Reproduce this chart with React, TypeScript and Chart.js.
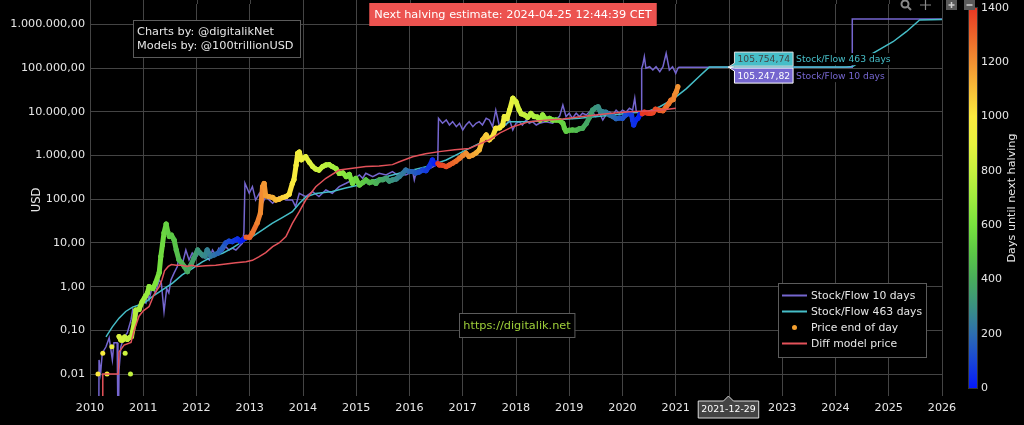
import React, { useEffect, useRef } from 'react';
import { Chart, registerables } from 'chart.js';

Chart.register(...registerables);

const FONT = '"DejaVu Sans", Verdana, sans-serif';
const TEXT = '#e6e6e6';
const GRID = '#444444';
const PURPLE = '#7566cf';
const CYAN = '#46bec8';
const RED = '#e4525a';
const ORANGE = '#f5a030';

// ---------- data ----------
const xTickYears = [2010, 2026];
const yTickValues = [0.01, 0.1, 1, 10, 100, 1000, 10000, 100000, 1000000];
const colorbarTicks = [0, 200, 400, 600, 800, 1000, 1200, 1400];
const halvingYears = [2012.907, 2016.519, 2020.358, 2024.314];
const legendLabels = ['Stock/Flow 10 days', 'Stock/Flow 463 days', 'Price end of day', 'Diff model price'];

const hoverYear = 2021.99;
const hoverDateLabel = '2021-12-29';
const hoverS2F463 = 105754.74;
const hoverS2F10 = 105247.82;

const priceDotYears = [2010.15, 2010.24, 2010.32, 2010.41, 2010.66, 2010.76];
const priceDotValues = [0.01, 0.03, 0.01, 0.042, 0.03, 0.01];

const priceYears = [
  2010.545, 2010.58, 2010.61, 2010.65, 2010.70, 2010.74, 2010.78, 2010.83, 2010.86, 2010.92, 2010.98,
  2011.04, 2011.08, 2011.11, 2011.18, 2011.23, 2011.30, 2011.33, 2011.36, 2011.39, 2011.43, 2011.46, 2011.49, 2011.53, 2011.58, 2011.62, 2011.67, 2011.72, 2011.77, 2011.83, 2011.86, 2011.90, 2011.95,
  2012.02, 2012.06, 2012.11, 2012.16, 2012.20, 2012.27, 2012.33, 2012.40, 2012.46, 2012.55, 2012.61, 2012.67, 2012.72, 2012.77, 2012.82, 2012.86, 2012.90,
  2012.93, 2013.00, 2013.05, 2013.14, 2013.20, 2013.24, 2013.27, 2013.30, 2013.36, 2013.43, 2013.49, 2013.55, 2013.62, 2013.68, 2013.74, 2013.80, 2013.83, 2013.87, 2013.90, 2013.93, 2013.97,
  2014.05, 2014.12, 2014.18, 2014.24, 2014.30, 2014.37, 2014.43, 2014.49, 2014.55, 2014.62, 2014.68, 2014.75, 2014.81, 2014.87, 2014.93, 2014.99,
  2015.06, 2015.12, 2015.18, 2015.25, 2015.31, 2015.37, 2015.43, 2015.50, 2015.56, 2015.62, 2015.68, 2015.75, 2015.81, 2015.87, 2015.93,
  2016.00, 2016.06, 2016.12, 2016.18, 2016.25, 2016.31, 2016.37, 2016.43, 2016.47, 2016.51,
  2016.53, 2016.56, 2016.62, 2016.69, 2016.75, 2016.81, 2016.87, 2016.94,
  2017.00, 2017.06, 2017.12, 2017.19, 2017.25, 2017.31, 2017.37, 2017.44, 2017.50, 2017.56, 2017.62, 2017.69, 2017.75, 2017.78, 2017.83, 2017.88, 2017.94,
  2018.00, 2018.06, 2018.10, 2018.16, 2018.22, 2018.28, 2018.34, 2018.40, 2018.45, 2018.50, 2018.56, 2018.63, 2018.69, 2018.75, 2018.82, 2018.88, 2018.91, 2018.94,
  2019.00, 2019.06, 2019.13, 2019.19, 2019.25, 2019.32, 2019.38, 2019.44, 2019.50, 2019.54, 2019.58, 2019.63, 2019.69, 2019.76, 2019.82, 2019.88, 2019.94,
  2020.00, 2020.06, 2020.13, 2020.17, 2020.19, 2020.21, 2020.25, 2020.29, 2020.33, 2020.355,
  2020.37, 2020.41, 2020.47, 2020.52, 2020.57, 2020.62, 2020.70, 2020.76, 2020.82, 2020.87, 2020.91, 2020.95, 2020.98, 2021.01, 2021.04,
];
const priceValues = [
  0.072, 0.06, 0.06, 0.07, 0.062, 0.068, 0.072, 0.148, 0.29, 0.3, 0.45,
  0.6, 0.72, 1.0, 0.9, 1.2, 2.1, 4.9, 9, 17, 27, 18, 14, 15, 11.7, 6.9, 4.1, 3.5, 2.9, 2.2, 2.7, 3.2, 4.5,
  6.9, 6.0, 5.3, 5.0, 6.9, 5.0, 5.3, 5.8, 6.9, 10, 11, 10.7, 11.5, 12.3, 11.0, 11.7, 12.5,
  13.5, 13.5, 17, 28.7, 48.5, 194, 230, 120, 115, 110, 96, 100, 110, 115, 130, 230, 280, 600, 1130, 1200, 800,
  940, 700, 560, 490, 465, 560, 610, 620, 560, 500, 390, 400, 330, 370, 232, 300,
  212, 240, 277, 240, 253, 230, 277, 280, 302, 260, 277, 290, 330, 390, 465,
  430, 430, 400, 420, 465, 450, 560, 790, 650, 670,
  660, 610, 600, 560, 610, 670, 740, 870,
  1000, 1130, 950, 1030, 1150, 1340, 2280, 2960, 2300, 2700, 4200, 4300, 5000, 7800, 7000, 11000, 20500,
  17100, 11000, 9000, 8500, 7500, 9200, 7800, 7600, 6500, 8500, 6800, 7100, 6500, 6500, 6300, 5500, 4200, 3600,
  3800, 3850, 3800, 4100, 4200, 5400, 7500, 11000, 12500, 13100, 10500, 10000, 9800, 8500, 7800, 7000, 7200,
  7100, 8500, 9200, 8500, 6500, 5000, 6500, 7100, 8800, 9000,
  9000, 9900, 9300, 9200, 9500, 11500, 10800, 10600, 13000, 15500, 18500, 19000, 24400, 29000, 37800,
];

const s2f10Years = [
  2010.165, 2010.17, 2010.20, 2010.23, 2010.30, 2010.36, 2010.42, 2010.45, 2010.51, 2010.525, 2010.535, 2010.545, 2010.58, 2010.64, 2010.70, 2010.77, 2010.80, 2010.86, 2010.92, 2010.98,
  2011.05, 2011.08, 2011.11, 2011.17, 2011.23, 2011.30, 2011.34, 2011.39, 2011.44, 2011.48, 2011.52, 2011.58, 2011.64, 2011.67, 2011.73, 2011.80, 2011.86, 2011.92, 2011.99,
  2012.05, 2012.11, 2012.17, 2012.24, 2012.30, 2012.36, 2012.42, 2012.49, 2012.55, 2012.61, 2012.67, 2012.74, 2012.80, 2012.86, 2012.89, 2012.91,
  2012.99, 2013.05, 2013.11, 2013.18, 2013.24, 2013.30, 2013.43, 2013.55, 2013.68, 2013.80, 2013.86, 2013.93,
  2014.05, 2014.18, 2014.30, 2014.43, 2014.55, 2014.68, 2014.81, 2014.93,
  2015.06, 2015.12, 2015.18, 2015.31, 2015.43, 2015.56, 2015.68, 2015.77, 2015.81, 2015.93,
  2016.06, 2016.09, 2016.12, 2016.25, 2016.37, 2016.45, 2016.53, 2016.545,
  2016.62, 2016.69, 2016.75, 2016.81, 2016.88, 2016.94,
  2017.00, 2017.06, 2017.12, 2017.19, 2017.25, 2017.31, 2017.37, 2017.44, 2017.50, 2017.56, 2017.62, 2017.69, 2017.75, 2017.81, 2017.88, 2017.94,
  2018.00, 2018.06, 2018.12, 2018.19, 2018.25, 2018.31, 2018.38, 2018.44, 2018.56, 2018.69, 2018.82, 2018.88, 2018.94,
  2019.00, 2019.06, 2019.13, 2019.19, 2019.25, 2019.32, 2019.41, 2019.50, 2019.57, 2019.63, 2019.69, 2019.76, 2019.82, 2019.88, 2019.94,
  2020.00, 2020.07, 2020.13, 2020.19, 2020.23, 2020.26, 2020.32, 2020.355, 2020.36,
  2020.38, 2020.41, 2020.44, 2020.51, 2020.57, 2020.63, 2020.70, 2020.76, 2020.82, 2020.88, 2020.94, 2021.00, 2021.04, 2021.06, 2024.31, 2024.315, 2026.0,
];
const s2f10Values = [
  0.001, 0.021, 0.0106, 0.030, 0.042, 0.067, 0.021, 0.052, 0.052, 0.001, 0.001, 0.0124, 0.042, 0.072, 0.087, 0.173, 0.29, 0.173, 0.35, 0.50,
  0.42, 0.72, 0.50, 1.0, 0.72, 1.42, 1.2, 0.27, 0.9, 0.72, 1.42, 2.06, 2.87, 4.86, 3.14, 6.9, 4.08, 5.9, 4.6,
  5.9, 4.6, 4.86, 4.08, 6.9, 5.3, 7.6, 6.4, 8.2, 6.9, 7.6, 6.9, 8.2, 9.8, 17, 232,
  137, 194, 96, 137, 81, 115, 81, 115, 96, 96, 68, 137,
  115, 149, 115, 163, 137, 194, 232, 277,
  360, 302, 394, 330, 394, 360, 428, 360, 394, 360,
  428, 277, 394, 428, 500, 560, 630, 7130,
  5480, 6530, 5010, 5970, 4580, 5480,
  3850, 5010, 5970, 4580, 5480, 5970, 5010, 7130, 6530, 4580, 11000, 4580, 5970, 5010, 6530, 3850,
  5480, 5970, 5010, 6530, 5480, 5970, 5010, 5480, 5970, 5480, 8000, 14400, 7800,
  9300, 7130, 9300, 7800, 9300, 8500, 11000, 7800, 9300, 6530, 8500, 9900, 8500, 11000, 9300,
  11000, 9900, 12100, 11000, 20500, 9900, 9900, 9900, 99500,
  118000, 183000, 99500, 108000, 91000, 108000, 83000, 108000, 219000, 91000, 108000, 76000, 99500, 105247.82, 105247.82, 1340000, 1340000,
];

const s2f463Years = [
  2010.30, 2010.42, 2010.545, 2010.67, 2010.80, 2010.92, 2011.05, 2011.17, 2011.36, 2011.55, 2011.73, 2011.92,
  2012.11, 2012.30, 2012.49, 2012.67, 2012.86, 2013.05, 2013.24, 2013.42, 2013.61, 2013.80, 2013.93,
  2014.05, 2014.24, 2014.55, 2014.80, 2015.05, 2015.43, 2015.81, 2016.10, 2016.37, 2016.69,
  2017.00, 2017.31, 2017.50, 2017.69, 2017.88, 2018.25, 2018.69, 2019.19, 2019.82, 2020.19, 2020.45, 2020.70, 2020.95,
  2021.20, 2021.45, 2021.63, 2024.20, 2024.33, 2024.70, 2025.08, 2025.33, 2025.58, 2026.00,
];
const s2f463Values = [
  0.071, 0.12, 0.19, 0.27, 0.34, 0.38, 0.45, 0.59, 0.84, 1.2, 1.85, 2.6,
  3.7, 4.9, 5.8, 7.6, 10.7, 14, 19.8, 28, 38, 52, 80,
  112, 135, 150, 180, 212, 300, 394, 480, 580, 790,
  1230, 1900, 2700, 4200, 5970, 5970, 6530, 7130, 8500, 9600, 9900, 13100, 19500,
  34000, 66000, 105754.74, 105754.74, 110000, 219000, 403000, 684000, 1270000, 1300000,
];

const diffYears = [
  2010.235, 2010.24, 2010.53, 2010.545, 2010.64, 2010.77, 2010.83, 2010.92,
  2011.00, 2011.11, 2011.20, 2011.30, 2011.35, 2011.40, 2011.47, 2011.53, 2011.62, 2011.72, 2011.82, 2011.91,
  2012.00, 2012.17, 2012.36, 2012.55, 2012.74, 2012.93,
  2013.05, 2013.17, 2013.30, 2013.43, 2013.55, 2013.68, 2013.80, 2013.93,
  2014.05, 2014.24, 2014.43, 2014.68, 2014.93, 2015.18, 2015.43, 2015.68, 2015.81,
  2016.06, 2016.30, 2016.56, 2016.85, 2017.12, 2017.30, 2017.50, 2017.70, 2017.94,
  2018.25, 2018.55, 2018.88, 2019.20, 2019.50, 2019.80, 2020.13, 2020.45, 2020.70, 2021.00,
];
const diffValues = [
  0.001, 0.01, 0.01, 0.032, 0.046, 0.053, 0.10, 0.21,
  0.28, 0.35, 0.65, 1.0, 1.42, 2.3, 2.9, 3.2, 3.1, 3.1, 2.9, 3.1,
  2.9, 3.0, 3.1, 3.3, 3.5, 3.7,
  4.0, 4.8, 6.0, 8.2, 10, 14, 28, 52,
  96, 194, 302, 465, 512, 560, 580, 620, 720,
  940, 1100, 1230, 1350, 1450, 1800, 2300, 3300, 4580,
  5970, 6400, 6900, 7700, 8500, 9300, 10000, 10500, 10900, 12100,
];

// ---------- helpers ----------
const colorStops: Array<[number, number[]]> = [
  [0, [5, 25, 250]],
  [100, [25, 70, 215]],
  [200, [45, 110, 175]],
  [300, [58, 145, 130]],
  [400, [72, 172, 92]],
  [500, [92, 200, 70]],
  [600, [120, 226, 62]],
  [700, [160, 236, 62]],
  [800, [198, 242, 62]],
  [900, [232, 242, 62]],
  [1000, [252, 234, 62]],
  [1100, [248, 190, 56]],
  [1200, [242, 145, 50]],
  [1300, [236, 100, 42]],
  [1400, [232, 55, 35]],
];

function colorForDays(d: number): string {
  const v = Math.max(0, Math.min(1400, d));
  for (let i = 1; i < colorStops.length; i++) {
    const [d0, c0] = colorStops[i - 1];
    const [d1, c1] = colorStops[i];
    if (v <= d1) {
      const t = (v - d0) / (d1 - d0);
      return `rgb(${c0.map((c, k) => Math.round(c + (c1[k] - c) * t)).join(',')})`;
    }
  }
  return 'rgb(232,55,35)';
}
function daysUntilHalving(year: number): number {
  const next = halvingYears.find((h) => h > year);
  return next === undefined ? 0 : (next - year) * 365.25;
}
const colorAtYear = (y: number) => colorForDays(daysUntilHalving(y));

function fmtDe(v: number): string {
  const [i, d] = v.toFixed(2).split('.');
  return i.replace(/\B(?=(\d{3})+(?!\d))/g, '.') + ',' + d;
}
const toPts = (xs: number[], ys: number[]) => xs.map((x, i) => ({ x, y: ys[i] }));

// ---------- overlay plugin ----------
function rotatedText(ctx: CanvasRenderingContext2D, text: string, x: number, y: number, font: string, color: string) {
  ctx.save();
  ctx.translate(x, y);
  ctx.rotate(-Math.PI / 2);
  ctx.font = font;
  ctx.fillStyle = color;
  ctx.textAlign = 'center';
  ctx.textBaseline = 'middle';
  ctx.fillText(text, 0, 0);
  ctx.restore();
}

function hoverBox(ctx: CanvasRenderingContext2D, px: number, py: number, top: number, h: number, value: string, name: string, bg: string, fg: string, border: string) {
  ctx.font = `9.2px ${FONT}`;
  const w = ctx.measureText(value).width + 6;
  const left = px + 6;
  ctx.fillStyle = bg;
  ctx.strokeStyle = border;
  ctx.lineWidth = 1;
  ctx.beginPath();
  ctx.moveTo(px, py);
  const a = Math.max(top, Math.min(top + h, py - 4));
  const b = Math.max(top, Math.min(top + h, py + 4));
  ctx.lineTo(left, a);
  ctx.lineTo(left, top);
  ctx.lineTo(left + w, top);
  ctx.lineTo(left + w, top + h);
  ctx.lineTo(left, top + h);
  ctx.lineTo(left, b);
  ctx.closePath();
  ctx.fill();
  ctx.stroke();
  ctx.fillStyle = fg;
  ctx.textAlign = 'left';
  ctx.textBaseline = 'middle';
  ctx.fillText(value, left + 3, top + h / 2 + 0.5);
  const nw = ctx.measureText(name).width;
  ctx.fillStyle = '#000';
  ctx.fillRect(left + w + 1, top + 1, nw + 4, h - 2);
  ctx.fillStyle = bg;
  ctx.fillText(name, left + w + 3, top + h / 2 + 0.5);
}

const gridExtend = {
  id: 'gridExtend',
  beforeDatasetsDraw(chart: any) {
    const ctx: CanvasRenderingContext2D = chart.ctx;
    const xs = chart.scales.x;
    const top = chart.chartArea.top;
    ctx.save();
    ctx.strokeStyle = GRID;
    ctx.lineWidth = 1;
    ctx.beginPath();
    xs.ticks.forEach((t: any) => {
      const x = Math.round(xs.getPixelForValue(t.value)) + 0.5;
      ctx.moveTo(x, 0);
      ctx.lineTo(x, top);
    });
    ctx.stroke();
    ctx.restore();
  },
};

const overlay = {
  id: 'overlay',
  afterDraw(chart: any) {
    const ctx: CanvasRenderingContext2D = chart.ctx;
    const xs = chart.scales.x;
    const ys = chart.scales.y;
    ctx.save();

    // y axis title
    rotatedText(ctx, 'USD', 37, 200, `11.5px ${FONT}`, TEXT);

    // annotation: credits
    ctx.font = `11.3px ${FONT}`;
    ctx.fillStyle = '#000';
    ctx.fillRect(133.5, 20.5, 167, 37);
    ctx.strokeStyle = '#5c5c5c';
    ctx.lineWidth = 1;
    ctx.strokeRect(133.5, 20.5, 167, 37);
    ctx.fillStyle = TEXT;
    ctx.textAlign = 'left';
    ctx.textBaseline = 'middle';
    ctx.fillText('Charts by: @digitalikNet', 137, 32);
    ctx.fillText('Models by: @100trillionUSD', 137, 46);

    // annotation: next halving
    const halvText = 'Next halving estimate: 2024-04-25 12:44:39 CET';
    const hw = ctx.measureText(halvText).width + 10;
    ctx.fillStyle = '#ec5350';
    ctx.fillRect(513 - hw / 2, 3, hw, 23);
    ctx.fillStyle = '#ffffff';
    ctx.textAlign = 'center';
    ctx.fillText(halvText, 513, 15);

    // annotation: url
    const urlText = 'https://digitalik.net';
    const uw = ctx.measureText(urlText).width + 8;
    ctx.fillStyle = '#000';
    ctx.fillRect(517 - uw / 2, 313.5, uw, 24);
    ctx.strokeStyle = '#5c5c5c';
    ctx.strokeRect(Math.round(517 - uw / 2) + 0.5, 313.5, uw, 24);
    ctx.fillStyle = '#9fd03a';
    ctx.fillText(urlText, 517, 326);

    // legend
    ctx.fillStyle = '#000';
    ctx.fillRect(778.5, 283.5, 148, 74);
    ctx.strokeStyle = '#5c5c5c';
    ctx.strokeRect(778.5, 283.5, 148, 74);
    const rows = [295.5, 311.5, 327.5, 343.5];
    const legendColors = [PURPLE, CYAN, ORANGE, RED];
    ctx.font = `10.8px ${FONT}`;
    ctx.textAlign = 'left';
    legendLabels.forEach((label, i) => {
      const y = rows[i];
      if (i === 2) {
        ctx.fillStyle = ORANGE;
        ctx.beginPath();
        ctx.arc(794.5, y, 2.5, 0, Math.PI * 2);
        ctx.fill();
      } else {
        ctx.strokeStyle = legendColors[i];
        ctx.lineWidth = 2;
        ctx.beginPath();
        ctx.moveTo(782, y);
        ctx.lineTo(807, y);
        ctx.stroke();
      }
      ctx.fillStyle = TEXT;
      ctx.fillText(label, 811, y + 0.5);
    });

    // colorbar
    const cbTop = 8, cbBottom = 388, cbL = 969, cbW = 8;
    const grad = ctx.createLinearGradient(0, cbBottom, 0, cbTop);
    for (let d = 0; d <= 1400; d += 50) grad.addColorStop(d / 1400, colorForDays(d));
    ctx.fillStyle = grad;
    ctx.fillRect(cbL, cbTop, cbW, cbBottom - cbTop);
    ctx.strokeStyle = '#333';
    ctx.lineWidth = 1;
    ctx.strokeRect(cbL - 0.5, cbTop - 0.5, cbW + 1, cbBottom - cbTop + 1);
    ctx.font = `11px ${FONT}`;
    ctx.fillStyle = TEXT;
    ctx.textAlign = 'left';
    ctx.textBaseline = 'middle';
    colorbarTicks.forEach((t) => {
      const y = cbBottom - (t / 1400) * (cbBottom - cbTop);
      ctx.fillText(String(t), 981, y);
    });
    rotatedText(ctx, 'Days until next halving', 1012, 198, `11.2px ${FONT}`, TEXT);

    // modebar icons (partially cut at top)
    ctx.strokeStyle = '#8a8a8a';
    ctx.fillStyle = '#8a8a8a';
    ctx.lineWidth = 2;
    ctx.beginPath();
    ctx.arc(905, 4, 3.5, 0, Math.PI * 2);
    ctx.stroke();
    ctx.beginPath();
    ctx.moveTo(907.5, 6.5);
    ctx.lineTo(911, 10);
    ctx.stroke();
    ctx.lineWidth = 1.2;
    ctx.beginPath();
    ctx.moveTo(925.5, 0);
    ctx.lineTo(925.5, 10);
    ctx.moveTo(920, 5);
    ctx.lineTo(931, 5);
    ctx.stroke();
    ctx.fillStyle = '#5a5a5a';
    ctx.fillRect(946, 0, 11, 10);
    ctx.fillRect(964, 0, 11, 10);
    ctx.strokeStyle = '#cfcfcf';
    ctx.lineWidth = 1.5;
    ctx.beginPath();
    ctx.moveTo(948.5, 5);
    ctx.lineTo(954.5, 5);
    ctx.moveTo(951.5, 2);
    ctx.lineTo(951.5, 8);
    ctx.moveTo(966.5, 5);
    ctx.lineTo(972.5, 5);
    ctx.stroke();

    // hover labels
    const hx = xs.getPixelForValue(hoverYear);
    const hy = ys.getPixelForValue(hoverS2F463);
    hoverBox(ctx, hx, hy, hy - 15, 14, fmtDe(hoverS2F463), 'Stock/Flow 463 days', CYAN, '#444', '#dddddd');
    hoverBox(ctx, hx, hy, hy + 1, 15, fmtDe(hoverS2F10), 'Stock/Flow 10 days', PURPLE, '#ffffff', '#ffffff');

    // x hover label
    const bottom = chart.chartArea.bottom;
    ctx.font = `9.4px ${FONT}`;
    const dw = ctx.measureText(hoverDateLabel).width + 6;
    ctx.fillStyle = '#444';
    ctx.strokeStyle = '#dddddd';
    ctx.lineWidth = 1;
    ctx.beginPath();
    ctx.moveTo(hx, bottom);
    ctx.lineTo(hx + 5, bottom + 5);
    ctx.lineTo(hx + dw / 2, bottom + 5);
    ctx.lineTo(hx + dw / 2, bottom + 22);
    ctx.lineTo(hx - dw / 2, bottom + 22);
    ctx.lineTo(hx - dw / 2, bottom + 5);
    ctx.lineTo(hx - 5, bottom + 5);
    ctx.closePath();
    ctx.fill();
    ctx.stroke();
    ctx.fillStyle = '#ffffff';
    ctx.textAlign = 'center';
    ctx.textBaseline = 'middle';
    ctx.fillText(hoverDateLabel, hx, bottom + 13.5);

    ctx.restore();
  },
};

export default function App() {
  const ref = useRef<HTMLCanvasElement>(null);

  useEffect(() => {
    const canvas = ref.current;
    if (!canvas) return;
    const chart = new Chart(canvas, {
      type: 'line',
      data: {
        datasets: [
          {
            label: 'Diff model price',
            data: toPts(diffYears, diffValues),
            borderColor: RED,
            borderWidth: 1.5,
            pointRadius: 0,
            tension: 0,
          },
          {
            label: 'Price end of day',
            data: toPts(priceYears, priceValues),
            borderColor: ORANGE,
            borderWidth: 5,
            borderCapStyle: 'round',
            borderJoinStyle: 'round',
            pointRadius: 2.5,
            pointBorderWidth: 0,
            pointBackgroundColor: (c: any) => colorAtYear(c.raw ? c.raw.x : 2010),
            segment: { borderColor: (c: any) => colorAtYear(c.p0.parsed.x) },
          } as any,
          {
            label: 'Price dots',
            data: toPts(priceDotYears, priceDotValues),
            showLine: false,
            pointRadius: 2.5,
            pointBorderWidth: 0,
            pointBackgroundColor: (c: any) => colorAtYear(c.raw ? c.raw.x : 2010),
          } as any,
          {
            label: 'Stock/Flow 463 days',
            data: toPts(s2f463Years, s2f463Values),
            borderColor: CYAN,
            borderWidth: 1.5,
            pointRadius: 0,
          },
          {
            label: 'Stock/Flow 10 days',
            data: toPts(s2f10Years, s2f10Values),
            borderColor: PURPLE,
            borderWidth: 1.5,
            pointRadius: 0,
          },
        ],
      },
      options: {
        responsive: false,
        animation: false,
        events: [],
        layout: { padding: { left: 0, right: 82, top: 0, bottom: 0 } },
        plugins: { legend: { display: false }, tooltip: { enabled: false } },
        scales: {
          x: {
            type: 'linear',
            min: xTickYears[0],
            max: xTickYears[1],
            ticks: {
              stepSize: 1,
              autoSkip: false,
              maxRotation: 0,
              padding: 5,
              color: TEXT,
              font: { family: FONT, size: 11.2 },
              callback: (v: any) => String(v),
            },
            grid: { color: GRID, lineWidth: 1, drawTicks: false },
            border: { display: false },
            afterFit: (s: any) => {
              s.height = 29;
              s.paddingLeft = 0;
              s.paddingRight = 0;
            },
          },
          y: {
            type: 'logarithmic',
            min: Math.pow(10, -2.5035),
            max: Math.pow(10, 6.469),
            afterBuildTicks: (s: any) => {
              s.ticks = yTickValues.map((v) => ({ value: v }));
            },
            ticks: {
              autoSkip: false,
              padding: 5,
              color: TEXT,
              font: { family: FONT, size: 11.2 },
              callback: (v: any) => fmtDe(Number(v)),
            },
            grid: { color: GRID, lineWidth: 1, drawTicks: false },
            border: { display: false },
            afterFit: (s: any) => {
              s.width = 90;
              s.paddingTop = 0;
              s.paddingBottom = 0;
            },
          },
        },
      } as any,
      plugins: [gridExtend, overlay],
    });
    return () => chart.destroy();
  }, []);

  return (
    <div style={{ position: 'fixed', left: 0, top: 0, width: 1024, height: 425, background: '#000' }}>
      <canvas ref={ref} width={1024} height={425} style={{ display: 'block', width: 1024, height: 425 }} />
    </div>
  );
}
